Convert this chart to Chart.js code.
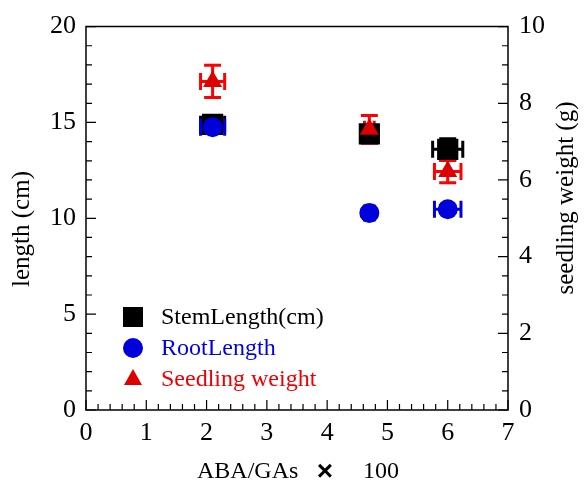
<!DOCTYPE html>
<html><head><meta charset="utf-8">
<script src="https://cdn.jsdelivr.net/npm/chart.js@4.4.1/dist/chart.umd.min.js"></script>
<style>html,body{margin:0;padding:0;background:#fff}</style>
</head><body>
<canvas id="c" width="584" height="480"></canvas>
<script>
// ---- data ----
const ratio = [2.1, 4.7, 6.0];
const stemLength = [14.9, 14.4, 13.6];
const stemXErr = [0.2, 0.1, 0.25];
const stemYErr = [0.3, 0.2, 0.55];
const rootLength = [14.75, 10.28, 10.47];
const rootXErr = [0.2, 0.08, 0.22];
const rootYErr = [0.3, 0.2, 0.2];
const seedlingWeight = [8.57, 7.32, 6.22];
const seedXErr = [0.2, 0.08, 0.22];
const seedYErr = [0.42, 0.36, 0.29];
const xTickValues = [0, 1, 2, 3, 4, 5, 6, 7];
const leftTickValues = [0, 5, 10, 15, 20];
const rightTickValues = [0, 2, 4, 6, 8, 10];
const seriesNames = ['StemLength(cm)', 'RootLength', 'Seedling weight'];
const xTitleParts = ['ABA/GAs', '\u00d7', '100'];
const yTitle = 'length (cm)';
const y2Title = 'seedling weight (g)';

const FONT = "'Liberation Serif', 'DejaVu Serif', serif";
const BLACK = '#000000', BLUE = '#0000dd', RED = '#dd0000', REDBAR = '#ff0000';

function pts(ys){ return ratio.map((x,i)=>({x:x, y:ys[i]})); }

const errs = [
  {xe: stemXErr, ye: stemYErr, color: BLACK},
  {xe: rootXErr, ye: rootYErr, color: BLUE},
  {xe: seedXErr, ye: seedYErr, color: REDBAR}
];

const errorBars = {
  id: 'errorBars',
  beforeDatasetsDraw(chart) {
    const ctx = chart.ctx;
    errs.forEach((e, i) => {
      const meta = chart.getDatasetMeta(i);
      const xs = chart.scales.x, ys = chart.scales[meta.yAxisID];
      const data = chart.data.datasets[i].data;
      ctx.save();
      ctx.strokeStyle = e.color;
      ctx.lineWidth = 3;
      const cap = 8.5;
      data.forEach((p, j) => {
        const px = xs.getPixelForValue(p.x), py = ys.getPixelForValue(p.y);
        const x1 = xs.getPixelForValue(p.x - e.xe[j]), x2 = xs.getPixelForValue(p.x + e.xe[j]);
        const y1 = ys.getPixelForValue(p.y - e.ye[j]), y2 = ys.getPixelForValue(p.y + e.ye[j]);
        ctx.beginPath();
        ctx.moveTo(x1, py); ctx.lineTo(x2, py);
        ctx.moveTo(x1, py - cap); ctx.lineTo(x1, py + cap);
        ctx.moveTo(x2, py - cap); ctx.lineTo(x2, py + cap);
        ctx.moveTo(px, y1); ctx.lineTo(px, y2);
        ctx.moveTo(px - cap, y1); ctx.lineTo(px + cap, y1);
        ctx.moveTo(px - cap, y2); ctx.lineTo(px + cap, y2);
        ctx.stroke();
      });
      ctx.restore();
    });
  }
};

const frame = {
  id: 'frame',
  beforeDatasetsDraw(chart) {
    const ctx = chart.ctx, a = chart.chartArea;
    const xs = chart.scales.x, ys = chart.scales.y, ys2 = chart.scales.y2;
    ctx.save();
    ctx.strokeStyle = '#000';
    ctx.lineWidth = 1.5;
    ctx.beginPath();
    ctx.rect(a.left, a.top, a.right - a.left, a.bottom - a.top);
    ctx.stroke();
    ctx.lineWidth = 1.2;
    ctx.beginPath();
    for (let k = 0; k <= 35; k++) {
      const px = xs.getPixelForValue(k * 0.2);
      const len = (k % 5 === 0) ? 10 : 6;
      ctx.moveTo(px, a.bottom); ctx.lineTo(px, a.bottom - len);
    }
    for (let k = 0; k <= 20; k++) {
      const py = ys.getPixelForValue(k);
      const len = (k % 5 === 0) ? 10 : 6;
      ctx.moveTo(a.left, py); ctx.lineTo(a.left + len, py);
    }
    for (let k = 0; k <= 20; k++) {
      const py = ys2.getPixelForValue(k * 0.5);
      const len = (k % 4 === 0) ? 10 : 6;
      ctx.moveTo(a.right, py); ctx.lineTo(a.right - len, py);
    }
    ctx.stroke();
    ctx.restore();
  },
  afterDraw(chart) {
    const ctx = chart.ctx;
    ctx.save();
    ctx.fillStyle = '#000';
    ctx.textBaseline = 'alphabetic';
    // x title
    ctx.font = '24px ' + FONT;
    ctx.textAlign = 'left';
    ctx.fillText(xTitleParts[0], 197, 478);
    ctx.fillText(xTitleParts[2], 363, 478);
    ctx.font = 'bold 28px "Liberation Sans", Arial, sans-serif';
    ctx.textAlign = 'center';
    ctx.fillText(xTitleParts[1], 325, 480);
    // y titles
    ctx.save();
    ctx.translate(29, 229);
    ctx.rotate(-Math.PI / 2);
    ctx.textAlign = 'center';
    ctx.font = '25px ' + FONT;
    ctx.fillText(yTitle, 0, 0);
    ctx.restore();
    ctx.save();
    ctx.translate(573, 198);
    ctx.rotate(-Math.PI / 2);
    ctx.textAlign = 'center';
    ctx.font = '25px ' + FONT;
    ctx.fillText(y2Title, 0, 0);
    ctx.restore();
    // legend
    const lx = 133, ly = [317, 348, 379];
    ctx.fillStyle = BLACK;
    ctx.fillRect(lx - 10, ly[0] - 10, 20, 20);
    ctx.fillStyle = BLUE;
    ctx.beginPath(); ctx.arc(lx, ly[1], 10, 0, Math.PI * 2); ctx.fill();
    ctx.fillStyle = RED;
    ctx.beginPath();
    ctx.moveTo(lx, ly[2] - 10); ctx.lineTo(lx + 9, ly[2] + 6); ctx.lineTo(lx - 9, ly[2] + 6);
    ctx.closePath(); ctx.fill();
    ctx.font = '24px ' + FONT;
    ctx.textAlign = 'left';
    ctx.textBaseline = 'middle';
    const textCols = ['#000000', '#0000ee', '#ee0000'];
    seriesNames.forEach((n, i) => {
      ctx.fillStyle = textCols[i];
      ctx.fillText(n, 161, ly[i] + 1);
    });
    ctx.restore();
  }
};

const tickFont = {family: FONT, size: 26};

new Chart(document.getElementById('c'), {
  type: 'scatter',
  data: {
    datasets: [
      {label: seriesNames[0], data: pts(stemLength), yAxisID: 'y', order: 3,
       pointStyle: 'rect', pointRadius: 15, backgroundColor: BLACK, borderColor: BLACK, borderWidth: 0},
      {label: seriesNames[1], data: pts(rootLength), yAxisID: 'y', order: 2,
       pointStyle: 'circle', pointRadius: 10, backgroundColor: BLUE, borderColor: BLUE, borderWidth: 0},
      {label: seriesNames[2], data: pts(seedlingWeight), yAxisID: 'y2', order: 1,
       pointStyle: 'triangle', pointRadius: 11, backgroundColor: RED, borderColor: RED, borderWidth: 0}
    ]
  },
  options: {
    responsive: false,
    animation: false,
    devicePixelRatio: 1,
    layout: {padding: {top: 26, left: 0, right: 0, bottom: 0}},
    plugins: {legend: {display: false}, tooltip: {enabled: false}},
    scales: {
      x: {
        type: 'linear', min: 0, max: 7,
        afterBuildTicks(s) { s.ticks = xTickValues.map(v => ({value: v})); },
        ticks: {padding: 8, color: '#000', font: tickFont, maxRotation: 0},
        grid: {display: false, drawTicks: false}, border: {display: false},
        afterFit(s) { s.height = 70; }
      },
      y: {
        type: 'linear', position: 'left', min: 0, max: 20,
        afterBuildTicks(s) { s.ticks = leftTickValues.map(v => ({value: v})); },
        ticks: {padding: 10, color: '#000', font: tickFont},
        grid: {display: false, drawTicks: false}, border: {display: false},
        afterFit(s) { s.width = 86; }
      },
      y2: {
        type: 'linear', position: 'right', min: 0, max: 10,
        afterBuildTicks(s) { s.ticks = rightTickValues.map(v => ({value: v})); },
        ticks: {padding: 11, color: '#000', font: tickFont},
        grid: {display: false, drawTicks: false}, border: {display: false},
        afterFit(s) { s.width = 76; }
      }
    }
  },
  plugins: [frame, errorBars]
});
</script>
</body></html>
